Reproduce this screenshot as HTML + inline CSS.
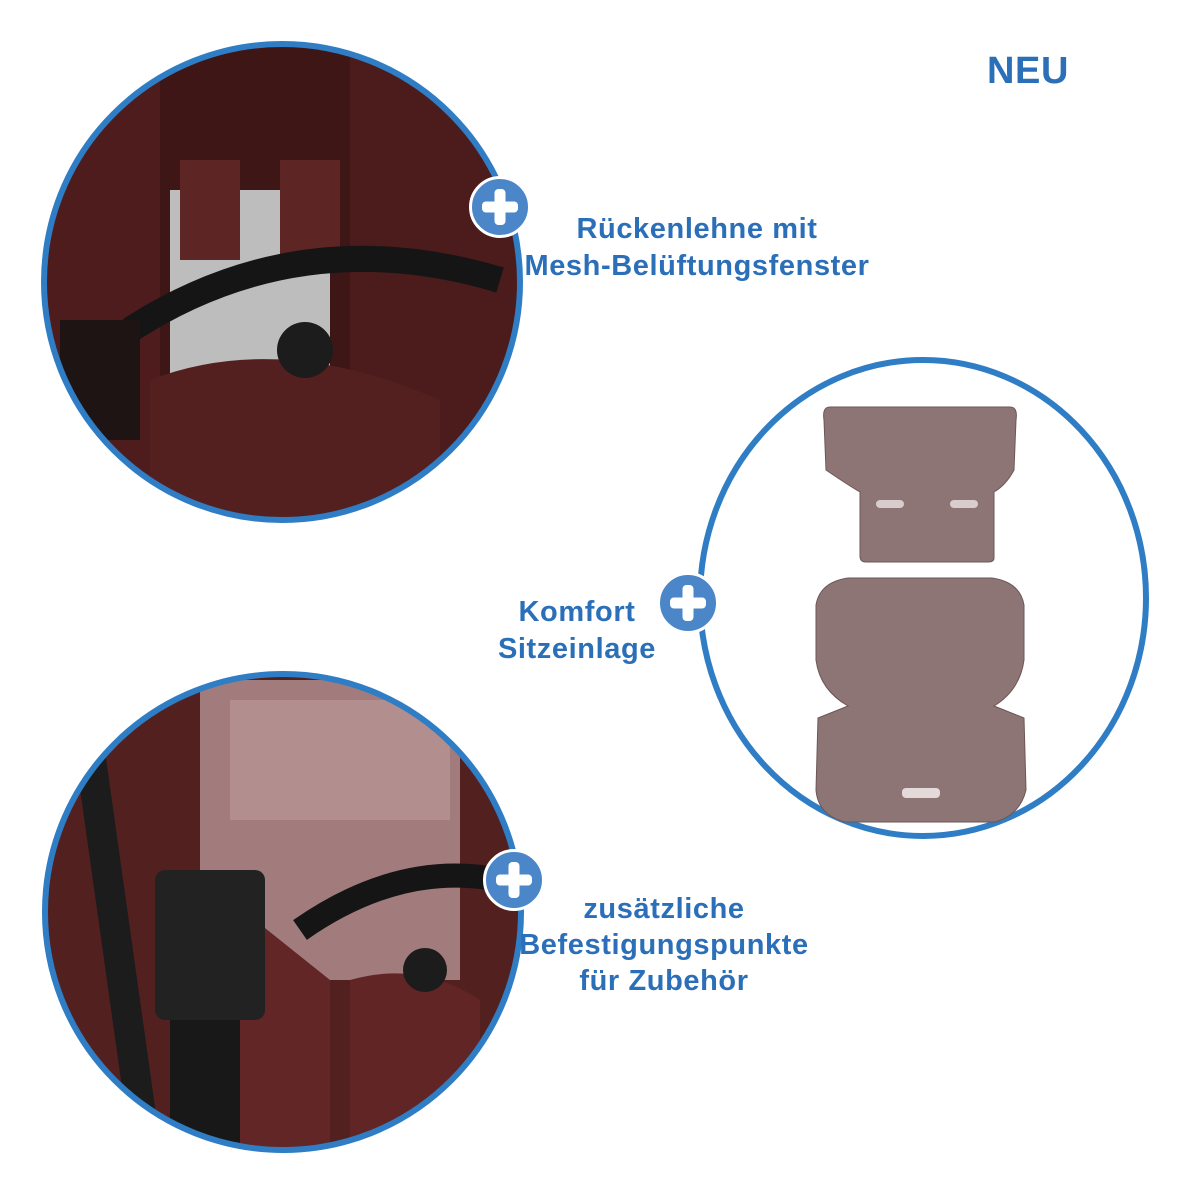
<!DOCTYPE html>
<html><head><meta charset="utf-8"><style>
body{margin:0;width:1200px;height:1200px;background:#fff;position:relative;overflow:hidden;font-family:"Liberation Sans","DejaVu Sans",sans-serif}
.t{position:absolute;color:#2a6fb8;font-weight:bold;font-size:29px;letter-spacing:0.6px;text-align:center;white-space:nowrap;transform:translateX(-50%)}
.plus{position:absolute;width:62px;height:62px;border-radius:50%;background:#4a86c8;border:3px solid #fff;box-sizing:border-box}
.plus:before,.plus:after{content:"";position:absolute;background:#fff;border-radius:4px;left:50%;top:50%;transform:translate(-50%,-50%)}
.plus:before{width:36px;height:11px}.plus:after{width:11px;height:36px}
</style></head><body>
<svg width="1200" height="1200" style="position:absolute;left:0;top:0">
<defs>
<clipPath id="c1"><ellipse cx="282" cy="282" rx="238" ry="238"/></clipPath>
<clipPath id="c3"><ellipse cx="283" cy="912" rx="238" ry="238"/></clipPath>
</defs>
<g clip-path="url(#c1)">
<rect x="0" y="0" width="600" height="600" fill="#3e1616"/>
<rect x="40" y="40" width="120" height="500" fill="#4e1c1c"/>
<rect x="350" y="40" width="200" height="500" fill="#4c1b1b"/>
<rect x="170" y="190" width="160" height="220" fill="#bdbdbd"/>
<path d="M150 380 Q280 330 440 400 L440 560 L150 560Z" fill="#541f1f"/>
<rect x="180" y="160" width="60" height="100" fill="#5e2525"/>
<rect x="280" y="160" width="60" height="100" fill="#5e2525"/>
<path d="M130 330 Q300 220 500 280" stroke="#151515" stroke-width="26" fill="none"/>
<circle cx="305" cy="350" r="28" fill="#1c1c1c"/>
<rect x="60" y="320" width="80" height="120" fill="#1e1414"/>
</g>
<ellipse cx="282" cy="282" rx="238" ry="238" fill="none" stroke="#2f7dc4" stroke-width="6"/>
<g clip-path="url(#c3)">
<rect x="0" y="660" width="600" height="520" fill="#532020"/>
<rect x="200" y="680" width="260" height="300" fill="#a27c7c"/>
<rect x="230" y="700" width="220" height="120" fill="#b38e8e"/>
<path d="M230 900 L330 980 L330 1180 L230 1180Z" fill="#622626"/>
<path d="M350 980 Q420 960 480 1000 L480 1180 L350 1180Z" fill="#622525"/>
<rect x="155" y="870" width="110" height="150" rx="10" fill="#222"/>
<rect x="170" y="1020" width="70" height="140" fill="#181818"/>
<path d="M300 930 Q400 860 500 880" stroke="#151515" stroke-width="24" fill="none"/>
<rect x="100" y="700" width="30" height="460" fill="#1c1c1c" transform="rotate(-8 115 930)"/>
<circle cx="425" cy="970" r="22" fill="#1c1c1c"/>
</g>
<ellipse cx="283" cy="912" rx="238" ry="238" fill="none" stroke="#2f7dc4" stroke-width="6"/>
<ellipse cx="923" cy="598" rx="223" ry="238" fill="none" stroke="#2f7dc4" stroke-width="6"/>
<path d="M830 407 L1010 407 Q1018 407 1016 420 L1014 470 Q1006 485 994 492 L994 558 Q994 562 988 562 L866 562 Q860 562 860 556 L860 492 Q848 485 826 470 L824 420 Q822 407 830 407Z" fill="#8e7575" stroke="#6e5656" stroke-width="1"/>
<rect x="876" y="500" width="28" height="8" rx="4" fill="#d8cccc"/>
<rect x="950" y="500" width="28" height="8" rx="4" fill="#d8cccc"/>
<path d="M848 578 L992 578 Q1020 582 1024 605 L1024 660 Q1020 690 994 706 L1024 718 L1026 790 Q1020 815 995 822 L845 822 Q818 815 816 790 L818 718 L848 706 Q820 690 816 660 L816 605 Q820 582 848 578Z" fill="#8e7575" stroke="#6e5656" stroke-width="1"/>
<rect x="902" y="788" width="38" height="10" rx="4" fill="#e4dada"/>
</svg>
<div class="plus" style="left:469px;top:176px"></div>
<div class="plus" style="left:657px;top:572px"></div>
<div class="plus" style="left:483px;top:849px"></div>
<div class="t" style="left:1028px;top:50px;font-size:38px">NEU</div>
<div class="t" style="left:697px;top:211px;line-height:37px">Rückenlehne mit<br>Mesh-Belüftungsfenster</div>
<div class="t" style="left:577px;top:594px;line-height:37px">Komfort<br>Sitzeinlage</div>
<div class="t" style="left:664px;top:891px;line-height:36px">zusätzliche<br>Befestigungspunkte<br>für Zubehör</div>
</body></html>
